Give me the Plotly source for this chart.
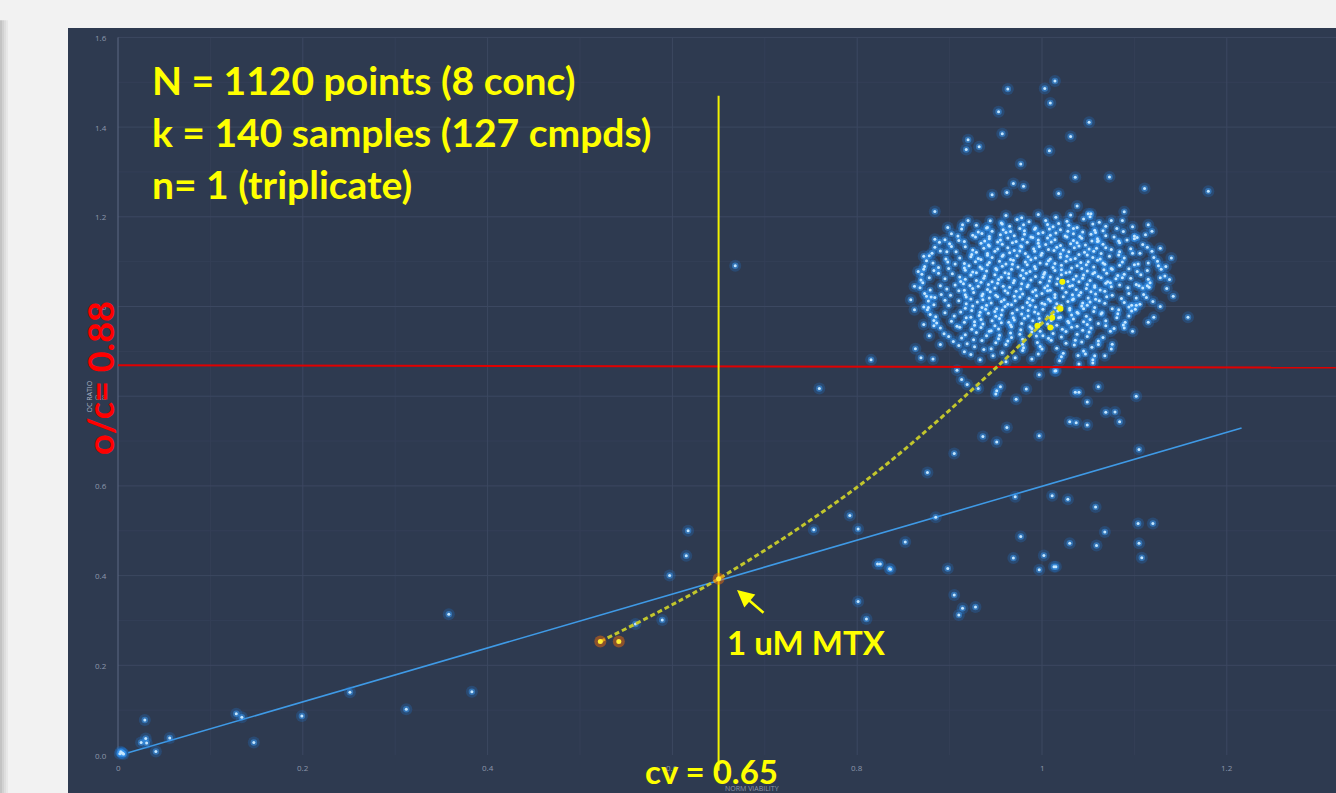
import plotly.graph_objects as go

# ---------------- data ----------------
# dense cluster of normal-viability samples (norm viability, OC ratio)
cluster_pts = [
    (0.961,1.203),(0.978,1.198),(0.996,1.205),(1.015,1.199),(1.031,1.204),(1.052,1.200),
    (0.944,1.191),(0.956,1.186),(0.973,1.194),(0.986,1.189),(1.004,1.192),(1.018,1.185),(1.027,1.190),(1.045,1.195),(1.062,1.188),
    (0.929,1.181),(0.941,1.176),(0.957,1.184),(0.965,1.179),(0.980,1.182),(0.993,1.175),(1.006,1.183),(1.012,1.178),(1.029,1.181),(1.038,1.176),(1.055,1.184),(1.069,1.179),(1.081,1.174),
    (0.913,1.173),(0.931,1.166),(0.940,1.175),(0.946,1.168),(0.958,1.171),(0.966,1.167),(0.976,1.174),(0.981,1.169),(0.992,1.172),(1.001,1.165),(1.008,1.173),(1.020,1.171),(1.028,1.168),(1.034,1.174),(1.044,1.166),(1.057,1.170),(1.088,1.167),
    (0.902,1.162),(0.909,1.157),(0.925,1.159),(0.935,1.163),(0.943,1.156),(0.955,1.160),(0.961,1.165),(0.970,1.158),(0.981,1.161),(0.988,1.155),(0.996,1.163),(1.009,1.159),(1.015,1.164),(1.025,1.157),(1.034,1.162),(1.041,1.156),(1.053,1.161),(1.058,1.165),(1.069,1.158),(1.100,1.157),
    (0.895,1.149),(0.910,1.147),(0.928,1.155),(0.938,1.146),(0.943,1.151),(0.955,1.148),(0.963,1.153),(0.972,1.145),(0.979,1.150),(0.990,1.154),(0.996,1.148),(1.006,1.153),(1.014,1.149),(1.027,1.155),(1.034,1.147),(1.043,1.152),(1.054,1.146),(1.060,1.151),(1.103,1.154),
    (0.889,1.143),(0.900,1.140),(0.916,1.145),(0.934,1.141),(0.942,1.137),(0.952,1.144),(0.957,1.139),(0.968,1.142),(0.977,1.135),(0.984,1.143),(0.996,1.141),(1.004,1.138),(1.010,1.144),(1.020,1.136),(1.031,1.140),(1.038,1.142),(1.047,1.137),(1.060,1.145),(1.066,1.139),(1.084,1.142),(1.109,1.138),
    (0.884,1.132),(0.902,1.134),(0.917,1.133),(0.925,1.126),(0.937,1.130),(0.943,1.135),(0.952,1.128),(0.963,1.131),(0.970,1.125),(0.978,1.133),(0.991,1.129),(0.997,1.134),(1.007,1.127),(1.016,1.132),(1.023,1.126),(1.035,1.131),(1.040,1.135),(1.051,1.128),(1.059,1.130),(1.075,1.127),(1.096,1.129),(1.114,1.132),
    (0.881,1.119),(0.890,1.124),(0.907,1.122),(0.924,1.116),(0.929,1.121),(0.941,1.118),(0.949,1.123),(0.958,1.115),(0.965,1.120),(0.976,1.124),(0.982,1.118),(0.992,1.123),(1.000,1.119),(1.013,1.125),(1.020,1.117),(1.029,1.122),(1.040,1.116),(1.046,1.121),(1.056,1.123),(1.064,1.118),(1.083,1.115),(1.106,1.119),(1.119,1.123),
    (0.878,1.113),(0.896,1.106),(0.911,1.108),(0.923,1.111),(0.931,1.107),(0.941,1.114),(0.946,1.109),(0.957,1.112),(0.966,1.105),(0.973,1.113),(0.985,1.111),(0.993,1.108),(0.999,1.114),(1.009,1.106),(1.020,1.110),(1.027,1.112),(1.036,1.107),(1.049,1.115),(1.055,1.109),(1.063,1.106),(1.073,1.112),(1.089,1.108),(1.121,1.109),
    (0.875,1.102),(0.882,1.097),(0.898,1.099),(0.916,1.096),(0.928,1.100),(0.934,1.105),(0.943,1.098),(0.954,1.101),(0.961,1.095),(0.969,1.103),(0.982,1.099),(0.988,1.104),(0.998,1.097),(1.007,1.102),(1.014,1.096),(1.026,1.101),(1.031,1.105),(1.042,1.098),(1.050,1.100),(1.060,1.103),(1.066,1.097),(1.087,1.099),(1.104,1.095),(1.125,1.101),
    (0.873,1.089),(0.888,1.087),(0.906,1.095),(0.916,1.086),(0.921,1.091),(0.933,1.088),(0.941,1.093),(0.950,1.085),(0.957,1.090),(0.968,1.094),(0.974,1.088),(0.984,1.093),(0.992,1.089),(1.005,1.095),(1.012,1.087),(1.021,1.092),(1.032,1.086),(1.038,1.091),(1.048,1.093),(1.056,1.088),(1.068,1.094),(1.075,1.085),(1.084,1.092),(1.100,1.093),(1.126,1.091),
    (0.872,1.083),(0.883,1.080),(0.899,1.085),(0.917,1.081),(0.925,1.077),(0.935,1.084),(0.940,1.079),(0.951,1.082),(0.960,1.075),(0.967,1.083),(0.979,1.081),(0.987,1.078),(0.993,1.084),(1.003,1.076),(1.014,1.080),(1.021,1.082),(1.030,1.077),(1.043,1.085),(1.049,1.079),(1.057,1.076),(1.067,1.082),(1.076,1.083),(1.094,1.084),(1.114,1.080),(1.129,1.083),
    (0.870,1.072),(0.888,1.074),(0.903,1.073),(0.911,1.066),(0.923,1.070),(0.929,1.075),(0.938,1.068),(0.949,1.071),(0.956,1.065),(0.964,1.073),(0.977,1.069),(0.983,1.074),(0.993,1.067),(1.002,1.072),(1.009,1.066),(1.021,1.071),(1.026,1.075),(1.037,1.068),(1.045,1.070),(1.055,1.073),(1.061,1.067),(1.070,1.074),(1.082,1.069),(1.089,1.072),(1.107,1.071),(1.133,1.068),
    (0.869,1.059),(0.878,1.064),(0.895,1.062),(0.912,1.056),(0.917,1.061),(0.929,1.058),(0.937,1.063),(0.946,1.055),(0.953,1.060),(0.964,1.064),(0.970,1.058),(0.980,1.063),(0.988,1.059),(1.001,1.065),(1.008,1.057),(1.017,1.062),(1.028,1.056),(1.034,1.061),(1.044,1.063),(1.052,1.058),(1.064,1.064),(1.071,1.055),(1.080,1.062),(1.096,1.063),(1.115,1.061),(1.128,1.064),
    (0.871,1.053),(0.890,1.046),(0.906,1.048),(0.915,1.051),(0.922,1.047),(0.934,1.054),(0.942,1.049),(0.952,1.052),(0.958,1.045),(0.969,1.053),(0.978,1.051),(0.985,1.048),(0.998,1.054),(1.006,1.046),(1.016,1.050),(1.022,1.052),(1.033,1.047),(1.040,1.055),(1.049,1.049),(1.057,1.046),(1.069,1.052),(1.074,1.053),(1.084,1.048),(1.102,1.049),(1.117,1.053),
    (0.868,1.042),(0.879,1.037),(0.897,1.039),(0.916,1.036),(0.925,1.040),(0.931,1.045),(0.941,1.038),(0.949,1.041),(0.960,1.035),(0.965,1.043),(0.977,1.039),(0.984,1.044),(0.993,1.037),(1.003,1.042),(1.009,1.036),(1.022,1.041),(1.030,1.045),(1.037,1.038),(1.048,1.040),(1.057,1.043),(1.063,1.037),(1.075,1.044),(1.093,1.042),(1.109,1.041),(1.116,1.043),
    (0.873,1.029),(0.891,1.027),(0.910,1.035),(0.917,1.026),(0.926,1.031),(0.936,1.028),(0.944,1.033),(0.950,1.025),(0.963,1.030),(0.972,1.034),(0.979,1.028),(0.990,1.033),(1.000,1.029),(1.006,1.035),(1.014,1.027),(1.026,1.032),(1.033,1.026),(1.042,1.031),(1.053,1.033),(1.058,1.028),(1.068,1.034),(1.076,1.025),(1.094,1.029),(1.110,1.027),
    (0.875,1.023),(0.884,1.020),(0.901,1.025),(0.918,1.021),(0.923,1.017),(0.935,1.024),(0.943,1.019),(0.952,1.022),(0.959,1.015),(0.970,1.023),(0.976,1.021),(0.986,1.018),(0.994,1.024),(1.007,1.016),(1.014,1.020),(1.023,1.022),(1.034,1.017),(1.040,1.025),(1.050,1.019),(1.058,1.016),(1.070,1.022),(1.086,1.018),(1.102,1.019),(1.113,1.020),
    (0.877,1.012),(0.895,1.014),(0.910,1.013),(0.918,1.006),(0.930,1.010),(0.936,1.015),(0.945,1.008),(0.956,1.011),(0.963,1.005),(0.971,1.013),(0.984,1.009),(0.990,1.014),(1.000,1.007),(1.009,1.012),(1.016,1.006),(1.028,1.011),(1.033,1.015),(1.044,1.008),(1.052,1.010),(1.062,1.013),(1.068,1.007),(1.089,1.009),(1.106,1.005),
    (0.872,0.999),(0.883,1.004),(0.899,1.002),(0.917,0.996),(0.925,1.001),(0.935,0.998),(0.940,1.003),(0.951,0.995),(0.960,1.000),(0.967,1.004),(0.979,0.998),(0.987,1.003),(0.993,0.999),(1.003,1.005),(1.014,0.997),(1.021,1.002),(1.030,0.996),(1.043,1.001),(1.049,1.003),(1.057,0.998),(1.076,0.995),(1.094,0.999),(1.102,1.003),
    (0.876,0.993),(0.895,0.986),(0.912,0.988),(0.924,0.991),(0.933,0.987),(0.939,0.994),(0.949,0.989),(0.957,0.992),(0.968,0.985),(0.973,0.993),(0.985,0.991),(0.992,0.988),(1.001,0.994),(1.011,0.986),(1.017,0.990),(1.030,0.992),(1.038,0.987),(1.045,0.995),(1.056,0.989),(1.065,0.986),(1.083,0.993),(1.101,0.994),
    (0.879,0.982),(0.885,0.977),(0.905,0.979),(0.923,0.976),(0.932,0.980),(0.942,0.985),(0.950,0.978),(0.956,0.981),(0.969,0.975),(0.978,0.983),(0.985,0.979),(0.996,0.984),(1.006,0.977),(1.012,0.982),(1.020,0.976),(1.032,0.981),(1.039,0.985),(1.048,0.978),(1.064,0.983),(1.082,0.984),(1.094,0.979),
    (0.883,0.969),(0.902,0.967),(0.918,0.975),(0.927,0.966),(0.934,0.971),(0.946,0.968),(0.954,0.973),(0.964,0.965),(0.970,0.970),(0.981,0.974),(0.990,0.968),(0.997,0.973),(1.010,0.969),(1.018,0.975),(1.028,0.967),(1.034,0.972),(1.045,0.966),(1.052,0.971),(1.069,0.968),(1.090,0.965),
    (0.886,0.963),(0.908,0.956),(0.916,0.965),(0.927,0.958),(0.936,0.961),(0.949,0.957),(0.956,0.964),(0.966,0.959),(0.978,0.962),(0.987,0.955),(0.998,0.963),(1.006,0.961),(1.016,0.958),(1.029,0.964),(1.038,0.956),(1.049,0.960),(1.061,0.962),(1.069,0.957),(1.088,0.959),
    (0.890,0.952),(0.911,0.954),(0.924,0.949),(0.934,0.953),(0.945,0.946),(0.953,0.950),(0.967,0.955),(0.977,0.948),(0.989,0.951),(0.998,0.945),(1.011,0.953),(1.022,0.949),(1.032,0.954),(1.044,0.947),(1.053,0.952),(1.078,0.951),
    (0.894,0.939),(0.917,0.937),(0.929,0.942),(0.943,0.945),(0.954,0.936),(0.966,0.941),(0.976,0.938),(0.989,0.943),(1.001,0.935),(1.012,0.940),(1.026,0.944),(1.038,0.938),(1.051,0.943),(1.074,0.945),
    (0.899,0.933),(0.913,0.930),(0.926,0.926),(0.940,0.935),(0.953,0.928),(0.967,0.931),(0.979,0.927),(0.994,0.934),(1.007,0.929),(1.021,0.932),(1.036,0.925),(1.049,0.933),(1.066,0.931),
    (0.904,0.922),(0.919,0.917),(0.935,0.924),(0.950,0.919),(0.963,0.923),(0.979,0.916),(0.995,0.920),(1.010,0.925),(1.026,0.918),(1.043,0.921),(1.061,0.915),
    (0.910,0.913),(0.927,0.910),(0.945,0.906),(0.961,0.915),(0.980,0.908),(0.998,0.911),(1.016,0.907),(1.035,0.914),(1.054,0.909),
    (0.916,0.899),(0.937,0.904),(0.957,0.897),(0.979,0.902),(1.000,0.905),(1.023,0.896),(1.045,0.901),
    (0.923,0.893),(0.947,0.890),(0.971,0.886),(0.996,0.894),(1.021,0.888),(1.039,0.891),
    (0.933,0.881),(0.961,0.877),(0.989,0.883),(1.019,0.879),
    # loose points on the fringe of the cluster
    (0.862,1.045),(0.858,1.015),(0.866,1.078),(0.872,1.112),(0.884,1.150),(0.898,1.176),(0.920,1.192),(1.075,1.192),
    (1.098,1.178),(1.112,1.160),(1.128,1.130),(1.138,1.060),(1.135,1.040),(1.128,1.000),(1.115,0.965),(1.098,0.945),
    (0.872,0.960),(0.878,0.935),(0.890,0.915),(1.075,0.905),(1.068,0.890),
]

# sparse points around the cluster and elsewhere
outlier_pts = [
    (1.014,1.503),(1.003,1.486),(0.963,1.485),(1.009,1.454),(0.953,1.434),(1.051,1.411),(0.957,1.385),(1.031,1.379),
    (0.920,1.372),(0.918,1.350),(0.932,1.356),(1.008,1.347),(0.977,1.318),(1.036,1.288),(1.073,1.289),(0.969,1.274),
    (0.980,1.268),(0.946,1.249),(1.018,1.252),(0.962,1.254),(1.111,1.263),(1.180,1.257),(0.884,1.212),(1.038,1.224),
    (1.089,1.211),(1.087,1.192),(1.050,1.207),(1.053,1.207),(0.914,1.182),(1.115,1.182),(1.119,1.168),(0.897,1.122),
    (1.140,1.108),(1.134,1.089),(1.142,1.023),(1.120,1.011),(1.158,0.976),(1.121,0.976),(0.880,1.021),(0.862,0.993),
    (0.877,0.998),(0.883,0.957),(0.863,0.906),(0.869,0.886),(0.882,0.883),(1.089,0.952),(1.076,0.916),(1.055,0.881),
    (1.066,1.169),(1.078,1.155),(1.083,1.146),(1.092,1.148),(1.100,1.151),(1.061,1.146),(1.069,1.131),(1.084,1.122),
    (1.098,1.119),(1.115,1.097),(1.103,1.078),(1.087,1.064),(1.114,1.046),(1.105,1.046),(1.061,0.923),(1.047,0.894),
    (1.057,0.890),(1.055,0.874),(1.040,0.872),(1.014,0.856),(1.097,1.003),(1.097,0.990),(1.081,0.975),
    (0.908,0.858),(0.913,0.837),(0.919,0.826),(0.931,0.817),(0.951,0.812),(0.955,0.821),(0.950,0.805),(0.972,0.793),
    (0.983,0.816),(0.997,0.848),(1.015,0.857),(1.036,0.809),(1.040,0.809),(1.061,0.821),(1.049,0.787),(1.030,0.743),
    (1.037,0.741),(1.049,0.736),(1.069,0.764),(1.079,0.765),(1.084,0.743),(1.102,0.800),(0.962,0.730),(0.936,0.710),
    (0.951,0.698),(0.997,0.712),(0.905,0.672),(0.876,0.630),(0.885,0.530),(0.971,0.576),(1.011,0.578),(1.028,0.570),
    (1.058,0.553),(1.105,0.681),(0.852,0.475),(0.836,0.414),(0.825,0.426),(0.898,0.416),(0.977,0.487),(0.969,0.439),
    (1.002,0.445),(0.997,0.413),(1.013,0.420),(1.015,0.420),(1.030,0.472),(1.059,0.467),(1.068,0.497),(1.104,0.516),
    (1.120,0.516),(1.105,0.472),(1.108,0.440),(0.905,0.357),(0.914,0.327),(0.910,0.312),(0.928,0.330),
    (0.668,1.091),(0.815,0.881),(0.759,0.817),(0.617,0.500),(0.615,0.444),(0.597,0.400),(0.589,0.301),(0.753,0.502),
    (0.792,0.534),(0.801,0.504),(0.822,0.426),(0.835,0.415),(0.801,0.342),(0.810,0.303),(0.560,0.292),
    (0.029,0.078),(0.025,0.028),(0.030,0.037),(0.031,0.027),(0.041,0.008),(0.056,0.038),(0.128,0.092),(0.134,0.084),
    (0.147,0.028),(0.199,0.087),(0.251,0.140),(0.312,0.102),(0.358,0.314),(0.383,0.141),
    (0.002,0.003),(0.004,0.005),(0.006,0.002),(0.003,0.007),(0.005,0.004),
]

# methotrexate (MTX) dose series, 8 concentrations
mtx_low_x = [0.522, 0.542, 0.650]
mtx_low_y = [0.253, 0.253, 0.393]
mtx_high_x = [1.022, 1.020, 1.011, 0.995, 1.009]
mtx_high_y = [1.055, 0.995, 0.975, 0.957, 0.953]

# dashed MTX trend curve
mtx_curve_x = [0.522, 0.650, 0.810, 0.951, 1.022]
mtx_curve_y = [0.253, 0.393, 0.613, 0.865, 1.008]

# blue regression line
reg_x = [0.011, 1.216]
reg_y = [0.005, 0.729]

# thresholds
cv_value = 0.65
cv_line_y = [-0.035, 1.47]
oc_line_x = [0.0, 1.318]
oc_line_y = [0.869, 0.864]

x_ticks = [0, 0.2, 0.4, 0.6, 0.8, 1, 1.2]
x_tick_labels = ["0", "0.2", "0.4", "0.6", "0.8", "1", "1.2"]
y_ticks = [0.0, 0.2, 0.4, 0.6, 0.8, 1.0, 1.2, 1.4, 1.6]
y_tick_labels = ["0.0", "0.2", "0.4", "0.6", "0.8", "1.0", "1.2", "1.4", "1.6"]

info_lines = ["N = 1120 points (8 conc)", "k = 140 samples (127 cmpds)", "n= 1 (triplicate)"]

# ---------------- figure ----------------
W, H = 1336, 793
L, T = 68, 28
X0PX, XUNIT = 118.0, 924.0      # pixel of x=0, pixels per unit
Y0PX, YUNIT = 755.0, 448.5      # pixel of y=0, pixels per unit


def dx(px):
    return (px - X0PX) / XUNIT


def dy(py):
    return (Y0PX - py) / YUNIT


BG = "#2e3a50"
GRID = "#3c4861"
MINOR = "#343f57"
TICK = "#8d97ab"
YEL = "#ffff00"

blue_x = [p[0] for p in cluster_pts + outlier_pts]
blue_y = [p[1] for p in cluster_pts + outlier_pts]

fig = go.Figure()

shapes = []
for i in range(1, 16, 2):
    v = i / 10
    shapes.append(dict(type="line", xref="x", yref="y", x0=0, x1=dx(W), y0=v, y1=v,
                       line=dict(color=MINOR, width=1), layer="below"))
for i in range(1, 13, 2):
    v = i / 10
    shapes.append(dict(type="line", xref="x", yref="y", x0=v, x1=v, y0=0, y1=1.6,
                       line=dict(color=MINOR, width=1), layer="below"))
for v in y_ticks[1:]:
    shapes.append(dict(type="line", xref="x", yref="y", x0=0, x1=dx(W), y0=v, y1=v,
                       line=dict(color=GRID, width=1), layer="below"))
for v in x_ticks[1:]:
    shapes.append(dict(type="line", xref="x", yref="y", x0=v, x1=v, y0=0, y1=1.6,
                       line=dict(color=GRID, width=1), layer="below"))
shapes.append(dict(type="line", xref="x", yref="y", x0=0, x1=0, y0=0, y1=1.6,
                   line=dict(color="#5d6983", width=1), layer="below"))
# slide-edge shadow at the far left
PW = W - L
for k, col in enumerate(["#c4c4c4", "#d2d2d2", "#dedede", "#e8e8e8"]):
    shapes.append(dict(type="rect", xref="paper", yref="paper",
                       x0=(k * 2 - L) / PW, x1=(k * 2 + 2 - L) / PW,
                       y0=-0.01, y1=1.01, fillcolor=col, line=dict(width=0), layer="below"))

# regression line (blue)
fig.add_trace(go.Scatter(x=reg_x, y=reg_y, mode="lines",
                         line=dict(color="#3f9ae6", width=1.6), hoverinfo="skip"))

# blue points: glow + body + bright centre
fig.add_trace(go.Scatter(x=blue_x, y=blue_y, mode="markers", cliponaxis=False,
                         marker=dict(size=12, color="rgba(30,125,225,0.24)", line=dict(width=0)),
                         hoverinfo="skip"))
fig.add_trace(go.Scatter(x=blue_x, y=blue_y, mode="markers", cliponaxis=False,
                         marker=dict(size=6.5, color="rgba(60,155,245,0.5)", line=dict(width=0)),
                         hoverinfo="skip"))
fig.add_trace(go.Scatter(x=blue_x, y=blue_y, mode="markers", cliponaxis=False,
                         marker=dict(size=3, color="#c4e6ff", line=dict(width=0)),
                         hoverinfo="skip"))

# red OC threshold line
fig.add_trace(go.Scatter(x=oc_line_x, y=oc_line_y, mode="lines",
                         line=dict(color="#e00000", width=2), hoverinfo="skip"))

# yellow cv threshold line
fig.add_trace(go.Scatter(x=[cv_value, cv_value], y=cv_line_y, mode="lines", cliponaxis=False,
                         line=dict(color="#f2f200", width=2), hoverinfo="skip"))

# dashed MTX curve
fig.add_trace(go.Scatter(x=mtx_curve_x, y=mtx_curve_y, mode="lines",
                         line=dict(color="#c2c62c", width=3, dash="5px,3px", shape="spline", smoothing=1.0),
                         hoverinfo="skip"))

# MTX points
fig.add_trace(go.Scatter(x=mtx_low_x, y=mtx_low_y, mode="markers",
                         marker=dict(size=12, color="rgba(255,110,0,0.45)", line=dict(width=0)),
                         hoverinfo="skip"))
fig.add_trace(go.Scatter(x=mtx_low_x, y=mtx_low_y, mode="markers",
                         marker=dict(size=5, color="#ffee33", line=dict(width=0)), hoverinfo="skip"))
fig.add_trace(go.Scatter(x=mtx_high_x, y=mtx_high_y, mode="markers",
                         marker=dict(size=6, color="#f4f400", line=dict(width=0)), hoverinfo="skip"))

ann = []
for v, t in zip(y_ticks, y_tick_labels):
    ann.append(dict(x=dx(109), y=v, xref="x", yref="y", text=t, showarrow=False,
                    xanchor="right", yanchor="middle", font=dict(family="Open Sans", size=8, color=TICK)))
for v, t in zip(x_ticks, x_tick_labels):
    ann.append(dict(x=v, y=dy(767), xref="x", yref="y", text=t, showarrow=False,
                    xanchor="center", yanchor="middle", font=dict(family="Open Sans", size=8, color=TICK)))
ann.append(dict(x=dx(752), y=dy(788), xref="x", yref="y", text="NORM VIABILITY", showarrow=False,
                xanchor="center", yanchor="middle", font=dict(family="Open Sans", size=7, color=TICK)))
ann.append(dict(x=dx(88.5), y=dy(397), xref="x", yref="y", text="OC RATIO", showarrow=False, textangle=-90,
                xanchor="center", yanchor="middle", font=dict(family="Open Sans", size=7, color="#aab2c2")))

big = dict(family="Lato", size=39, color=YEL)
for text, cy in zip(info_lines, [80, 132, 184]):
    ann.append(dict(x=dx(150), y=dy(cy), xref="x", yref="y", text="<b>" + text + "</b>", showarrow=False,
                    xanchor="left", yanchor="middle", font=big))

mid = dict(family="Lato", size=33, color=YEL)
ann.append(dict(x=dx(725), y=dy(642), xref="x", yref="y", text="<b>1 uM MTX</b>", showarrow=False,
                xanchor="left", yanchor="middle", font=mid))
ann.append(dict(x=dx(711), y=dy(771), xref="x", yref="y", text="<b>cv = 0.65</b>", showarrow=False,
                xanchor="center", yanchor="middle", font=mid))
ann.append(dict(x=dx(100), y=dy(378), xref="x", yref="y", text="<b>o/c= 0.88</b>", showarrow=False,
                textangle=-90, xanchor="center", yanchor="middle",
                font=dict(family="Lato", size=36, color="#ff0000")))
ann.append(dict(x=dx(737), y=dy(590), xref="x", yref="y", ax=dx(765), ay=dy(614), axref="x", ayref="y",
                text="", showarrow=True, arrowhead=2, arrowsize=1.3, arrowwidth=2.6, arrowcolor=YEL))

fig.update_layout(
    width=W, height=H,
    margin=dict(l=L, r=0, t=T, b=0, pad=0),
    paper_bgcolor="#f2f2f2", plot_bgcolor=BG,
    showlegend=False,
    shapes=shapes, annotations=ann,
    xaxis=dict(range=[dx(L), dx(W)], showgrid=False, zeroline=False, showticklabels=False,
               showline=False, fixedrange=True),
    yaxis=dict(range=[dy(H), dy(T)], showgrid=False, zeroline=False, showticklabels=False,
               showline=False, fixedrange=True),
)

fig.write_html("out.html", config={"displayModeBar": False})
